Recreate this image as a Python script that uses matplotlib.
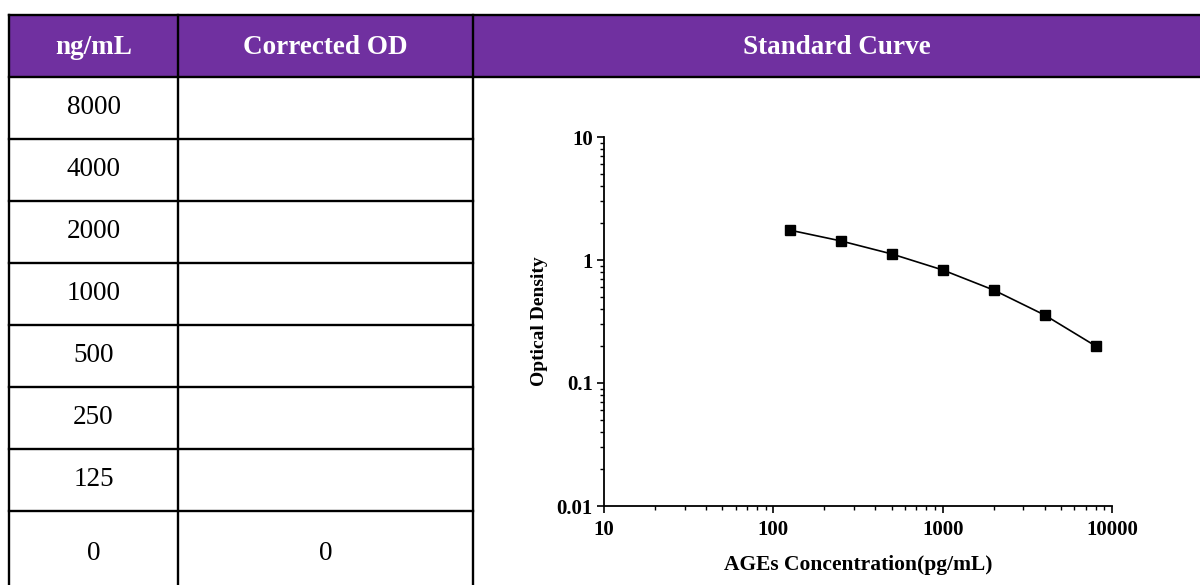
import numpy as np
import matplotlib.pyplot as plt
from matplotlib.patches import Rectangle
from matplotlib.ticker import LogLocator, NullFormatter, FixedLocator, FixedFormatter

plt.rcParams['font.family'] = ['Liberation Serif', 'DejaVu Serif']

# table contents
headers = ['ng/mL', 'Corrected OD', 'Standard Curve']
concs = ['8000', '4000', '2000', '1000', '500', '250', '125', '0']
corrected_od = ['', '', '', '', '', '', '', '0']

# standard curve values
curve_x = [125, 250, 500, 1000, 2000, 4000, 8000]
curve_y = [1.75, 1.43, 1.12, 0.83, 0.57, 0.357, 0.20]

xticks = [10, 100, 1000, 10000]
xticklabels = ['10', '100', '1000', '10000']
yticks = [0.01, 0.1, 1, 10]
yticklabels = ['0.01', '0.1', '1', '10']

W, H = 1200, 585
purple = '#7030A0'

fig = plt.figure(figsize=(12, 5.85), dpi=100)
tab = fig.add_axes([0, 0, 1, 1])
tab.set_xlim(0, W)
tab.set_ylim(H, 0)
tab.axis('off')

# column edges and row edges in pixels
col_x = [9, 178, 473, 1205]
head_top, head_bot = 15, 77
row_h = 62
row_y = [head_bot + i * row_h for i in range(len(concs))] + [H + 10]

tab.add_patch(Rectangle((col_x[0], head_top), col_x[-1] - col_x[0], head_bot - head_top,
                        facecolor=purple, edgecolor='none'))
lw = 1.7
tab.plot([col_x[0], W], [head_top, head_top], color='black', lw=lw)
tab.plot([col_x[0], W], [head_bot, head_bot], color='black', lw=lw)
for x in col_x[:3]:
    tab.plot([x, x], [head_top, H + 5], color='black', lw=lw)
for y in row_y[1:-1]:
    tab.plot([col_x[0], col_x[2]], [y, y], color='black', lw=lw)

for i, h in enumerate(headers):
    tab.text((col_x[i] + min(col_x[i + 1], W)) / 2, (head_top + head_bot) / 2 + 1.5, h,
             ha='center', va='center', color='white', fontsize=19.5, fontweight='bold')

for i, (c, od) in enumerate(zip(concs, corrected_od)):
    yc = row_y[i] + row_h / 2
    if i == len(concs) - 1:
        yc = 553
    tab.text((col_x[0] + col_x[1]) / 2, yc, c, ha='center', va='center', fontsize=19.5)
    tab.text((col_x[1] + col_x[2]) / 2, yc, od, ha='center', va='center', fontsize=19.5)

# standard curve plot
ax = fig.add_axes([604 / W, 1 - 506 / H, (1112 - 604) / W, (506 - 137) / H])
ax.plot(curve_x, curve_y, color='black', lw=1.2, marker='s', markersize=6.5)
ax.set_xscale('log')
ax.set_yscale('log')
ax.set_xlim(10, 10000)
ax.set_ylim(0.01, 10)
ax.spines['top'].set_visible(False)
ax.spines['right'].set_visible(False)
ax.spines['left'].set_linewidth(1.3)
ax.spines['bottom'].set_linewidth(1.3)
ax.xaxis.set_major_locator(FixedLocator(xticks))
ax.xaxis.set_major_formatter(FixedFormatter(xticklabels))
ax.yaxis.set_major_locator(FixedLocator(yticks))
ax.yaxis.set_major_formatter(FixedFormatter(yticklabels))
ax.xaxis.set_minor_locator(LogLocator(base=10, subs=np.arange(2, 10)))
ax.yaxis.set_minor_locator(LogLocator(base=10, subs=np.arange(2, 10)))
ax.xaxis.set_minor_formatter(NullFormatter())
ax.yaxis.set_minor_formatter(NullFormatter())
ax.tick_params(which='major', direction='out', length=5, width=1.2, labelsize=15, pad=3)
ax.tick_params(axis='x', which='major', pad=5)
ax.tick_params(which='minor', direction='out', length=3, width=1.0)
for lab in ax.get_xticklabels() + ax.get_yticklabels():
    lab.set_fontweight('bold')
ax.set_xlabel('AGEs Concentration(pg/mL)', fontsize=15.5, fontweight='bold', labelpad=11)
ax.set_ylabel('Optical Density', fontsize=14, fontweight='bold', labelpad=6)

fig.savefig('out.png', dpi=100)
